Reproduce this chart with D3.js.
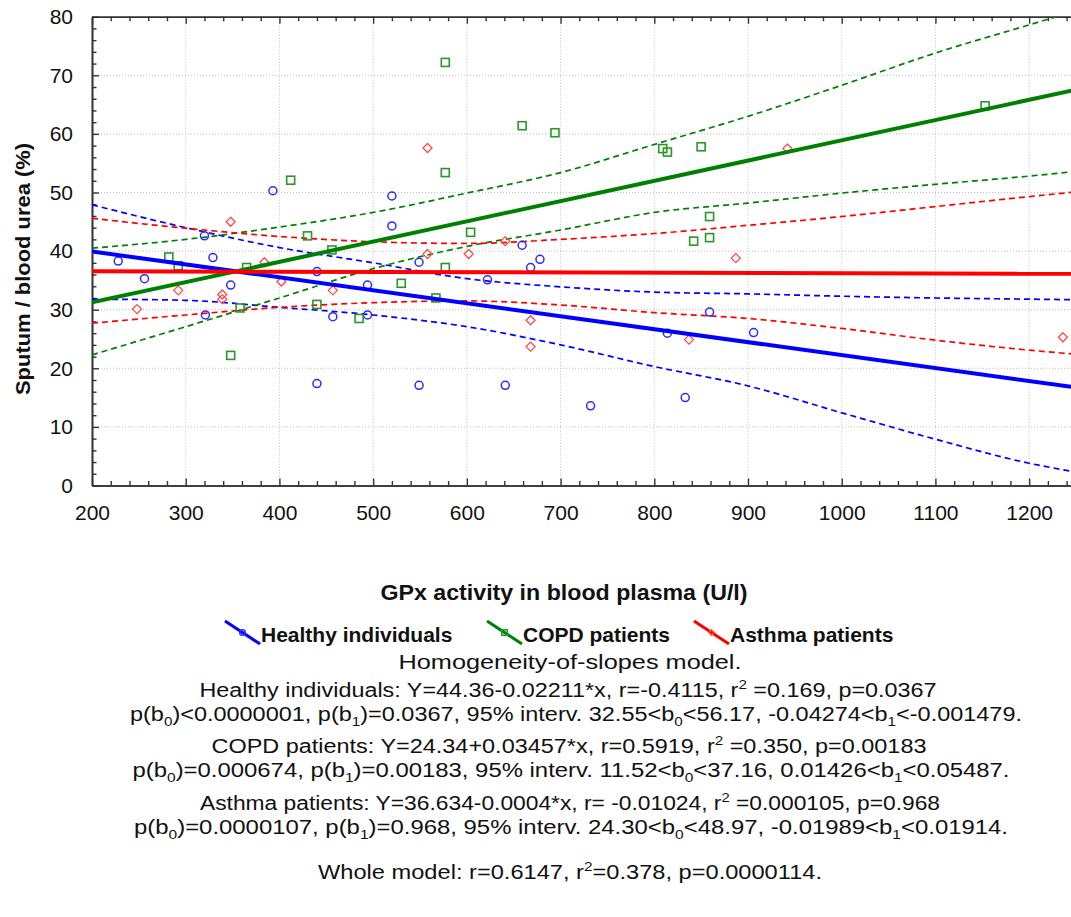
<!DOCTYPE html>
<html><head><meta charset="utf-8">
<script src="https://cdn.jsdelivr.net/npm/d3@7"></script>
<style>
html,body{margin:0;padding:0;background:#fff;overflow:hidden}
svg{display:block}
</style></head><body>
<script>
// ---------------- DATA ----------------
const xTicks = [200,300,400,500,600,700,800,900,1000,1100,1200];
const yTicks = [0,10,20,30,40,50,60,70,80];

const healthyX = [228,256,320,329,393,348,321,440,440,457,494,494,520,520,549,549,659,668,678,622,641,732,814,833,859,906];
const healthyY = [38.3,35.3,42.6,38.9,50.3,34.2,29.1,36.5,17.4,28.8,34.2,29.1,49.4,44.3,38.1,17.1,41.0,37.2,38.6,35.1,17.1,13.6,26.0,15.0,29.6,26.1];

const copdX = [412,430,282,292,456,365,358,348,440,485,530,577,577,659,694,809,814,850,859,859,842,604,577,567,1153];
const copdY = [52.1,42.6,39.0,37.5,40.2,37.2,30.3,22.2,30.9,28.5,34.5,72.2,53.4,61.4,60.2,57.5,56.9,57.8,45.9,42.3,41.7,43.2,37.2,32.0,64.8];

const asthmaX = [348,248,292,339,339,384,402,457,558,558,602,641,668,668,837,887,942,1236];
const asthmaY = [45.0,30.1,33.3,32.6,31.8,38.1,34.8,33.3,57.6,39.5,39.5,41.7,28.2,23.7,24.9,38.8,57.5,25.3];

// fitted lines (end points at x=200 and x=1250)
const lineX = [200,1250];
const healthyLine = [39.94,16.72];
const copdLine = [31.25,67.55];
const asthmaLine = [36.55,36.13];

// 95% confidence bands
const bandX = [200,300,400,500,600,700,800,900,1000,1100,1200,1250];
const healthyUpper = [47.9,44.0,40.6,38.0,35.3,33.9,33.0,32.7,32.3,32.0,31.8,31.7];
const healthyLower = [31.8,31.6,30.4,29.1,27.1,24.0,20.3,17.0,12.4,7.9,3.8,2.3];
const copdUpper = [40.5,42.0,44.1,46.6,49.9,53.4,58.2,63.0,68.3,73.8,78.6,81.0];
const copdLower = [22.3,27.1,32.0,37.0,40.8,43.6,46.6,48.2,49.9,51.4,52.8,53.6];
const asthmaUpper = [45.6,43.9,42.5,41.6,41.3,42.0,43.0,44.4,45.9,47.6,49.3,50.1];
const asthmaLower = [27.7,29.1,30.4,31.2,31.5,30.8,29.5,28.5,26.8,24.8,23.1,22.4];

const seriesNames = ["Healthy individuals","COPD patients","Asthma patients"];
const xTitle = "GPx activity in blood plasma (U/l)";
const yTitle = "Sputum / blood urea (%)";
const statLines = [
 "Homogeneity-of-slopes model.",
 "Healthy individuals: Y=44.36-0.02211*x, r=-0.4115, r^2 =0.169, p=0.0367",
 "p(b_0)<0.0000001, p(b_1)=0.0367, 95% interv. 32.55<b_0<56.17, -0.04274<b_1<-0.001479.",
 "COPD patients: Y=24.34+0.03457*x, r=0.5919, r^2 =0.350, p=0.00183",
 "p(b_0)=0.000674, p(b_1)=0.00183, 95% interv. 11.52<b_0<37.16, 0.01426<b_1<0.05487.",
 "Asthma patients: Y=36.634-0.0004*x, r= -0.01024, r^2 =0.000105, p=0.968",
 "p(b_0)=0.0000107, p(b_1)=0.968, 95% interv. 24.30<b_0<48.97, -0.01989<b_1<0.01914.",
 "Whole model: r=0.6147, r^2=0.378, p=0.0000114."
];

// ---------------- LAYOUT / STYLE ----------------
const W = 1071, H = 917;
const L = 92, R = 1076, T = 16.7, B = 485.5;
const FONT = "'Liberation Sans', Arial, sans-serif";
const lineCol = ["#0000ff","#008000","#ff0000"];
const ptCol = ["#2b2bff","#2a962a","#ff4a4a"];

const svg = d3.select("body").append("svg").attr("width",W).attr("height",H)
  .style("font-family",FONT);

const x = d3.scaleLinear().domain([200,1250]).range([L,R]);
const y = d3.scaleLinear().domain([0,80]).range([B,T]);

svg.append("defs").append("clipPath").attr("id","clip")
  .append("rect").attr("x",L).attr("y",T).attr("width",R-L).attr("height",B-T);

// grid
const grid = svg.append("g").attr("stroke","#bdbdbd").attr("stroke-width",1).attr("stroke-dasharray","1,2");
grid.selectAll(".gx").data(xTicks.filter(v=>v>200)).enter().append("line")
  .attr("x1",d=>x(d)).attr("x2",d=>x(d)).attr("y1",T).attr("y2",B);
grid.selectAll(".gy").data(yTicks.filter(v=>v>0 && v<80)).enter().append("line")
  .attr("x1",L).attr("x2",R).attr("y1",d=>y(d)).attr("y2",d=>y(d));

// axes
const minorX = d3.range(200,1260,20).filter(v=>v%100!==0);
const minorY = d3.range(0,81,2).filter(v=>v%10!==0);

function styleAxis(g){
  g.select(".domain").attr("stroke","#333").attr("stroke-width",1.6);
  g.selectAll(".tick line").attr("stroke","#333").attr("stroke-width",1.4);
  g.selectAll(".tick text").attr("fill","#111").style("font-size","21px").style("font-family",FONT);
}
// bottom
svg.append("g").attr("transform",`translate(0,${B})`)
  .call(d3.axisBottom(x).tickValues(xTicks).tickSizeInner(-7).tickSizeOuter(0).tickPadding(19.5).tickFormat(d3.format("d")))
  .call(styleAxis);
svg.append("g").attr("transform",`translate(0,${B})`)
  .call(d3.axisBottom(x).tickValues(minorX).tickSizeInner(-4.5).tickSizeOuter(0).tickFormat(""))
  .call(styleAxis);
// top
svg.append("g").attr("transform",`translate(0,${T})`)
  .call(d3.axisTop(x).tickValues(xTicks).tickSizeInner(-7).tickSizeOuter(0).tickFormat(""))
  .call(styleAxis);
svg.append("g").attr("transform",`translate(0,${T})`)
  .call(d3.axisTop(x).tickValues(minorX).tickSizeInner(-4.5).tickSizeOuter(0).tickFormat(""))
  .call(styleAxis);
// left
svg.append("g").attr("transform",`translate(${L},0)`)
  .call(d3.axisLeft(y).tickValues(yTicks).tickSizeInner(-7).tickSizeOuter(0).tickPadding(19))
  .call(styleAxis);
svg.append("g").attr("transform",`translate(${L},0)`)
  .call(d3.axisLeft(y).tickValues(minorY).tickSizeInner(-4.5).tickSizeOuter(0).tickFormat(""))
  .call(styleAxis);

// plot content
const plot = svg.append("g").attr("clip-path","url(#clip)");
const bandLine = d3.line().x(d=>x(d[0])).y(d=>y(d[1])).curve(d3.curveMonotoneX);
const bands = [[healthyUpper,healthyLower],[copdUpper,copdLower],[asthmaUpper,asthmaLower]];
bands.forEach((b,i)=>{
  b.forEach(arr=>{
    plot.append("path").datum(bandX.map((v,k)=>[v,arr[k]])).attr("d",bandLine)
      .attr("fill","none").attr("stroke",lineCol[i]).attr("stroke-width",1.7)
      .attr("stroke-dasharray","6,4");
  });
});

// markers
function marker(sel, type, col, s){
  if(type===0){
    sel.append("circle").attr("r",s).attr("fill","none").attr("stroke",col).attr("stroke-width",1.5);
  } else if(type===1){
    sel.append("rect").attr("x",-s).attr("y",-s).attr("width",2*s).attr("height",2*s)
      .attr("fill","none").attr("stroke",col).attr("stroke-width",1.6);
  } else {
    sel.append("path").attr("d",`M0,${-s}L${s},0L0,${s}L${-s},0Z`)
      .attr("fill","none").attr("stroke",col).attr("stroke-width",1.3);
  }
}
const pts = [[healthyX,healthyY],[copdX,copdY],[asthmaX,asthmaY]];
pts.forEach((p,i)=>{
  p[0].forEach((xv,k)=>{
    const g = plot.append("g").attr("transform",`translate(${x(xv)},${y(p[1][k])})`);
    marker(g,i,ptCol[i], i===0?4:(i===1?4:4.5));
  });
});

// fitted lines
const fits = [healthyLine,copdLine,asthmaLine];
const fitLine = d3.line().x(d=>x(d[0])).y(d=>y(d[1]));
fits.forEach((f,i)=>{
  plot.append("path").datum(lineX.map((v,k)=>[v,f[k]])).attr("d",fitLine)
    .attr("fill","none").attr("stroke",lineCol[i]).attr("stroke-width",4);
});

// axis titles
svg.append("text").attr("transform","translate(30,269) rotate(-90)")
  .attr("text-anchor","middle").style("font-weight","bold").style("font-size","21px")
  .attr("textLength",252).attr("lengthAdjust","spacingAndGlyphs").attr("fill","#111")
  .text(yTitle);
svg.append("text").attr("x",564).attr("y",600).attr("text-anchor","middle")
  .style("font-weight","bold").style("font-size","22px")
  .attr("textLength",367).attr("lengthAdjust","spacingAndGlyphs").attr("fill","#111")
  .text(xTitle);

// legend
const legX = [225,487,694];
const legG = svg.append("g");
seriesNames.forEach((nm,i)=>{
  const g = legG.append("g").attr("transform",`translate(${legX[i]},0)`);
  g.append("line").attr("x1",0).attr("y1",621).attr("x2",35).attr("y2",644)
    .attr("stroke",lineCol[i]).attr("stroke-width",3);
  const m = g.append("g").attr("transform","translate(17.5,632.5)");
  marker(m,i,ptCol[i],2.8);
  g.append("text").attr("x",36).attr("y",642).style("font-weight","bold").style("font-size","21px")
    .attr("fill","#111").text(nm);
});

// statistics text
const statY = [669,697,721,753,777,810,834,879];
const statLen = [343,737,892,715,877,740,874,504];
const statCX = [570,568,576,569,571,570,571,570];
statLines.forEach((s,i)=>{
  const t = svg.append("text").attr("x",statCX[i]).attr("y",statY[i]).attr("text-anchor","middle")
    .style("font-size","20px").attr("fill","#111")
    .attr("textLength",statLen[i]).attr("lengthAdjust","spacingAndGlyphs");
  const parts = s.split(/([\^_]\d)/);
  let shift = 0;
  parts.forEach(p=>{
    if(!p) return;
    if(p[0]==='^'){
      t.append("tspan").attr("dy",-8-shift).style("font-size","13px").text(p[1]); shift=-8;
    } else if(p[0]==='_'){
      t.append("tspan").attr("dy",5-shift).style("font-size","13px").text(p[1]); shift=5;
    } else {
      t.append("tspan").attr("dy",-shift).text(p); shift=0;
    }
  });
});
</script>
</body></html>
